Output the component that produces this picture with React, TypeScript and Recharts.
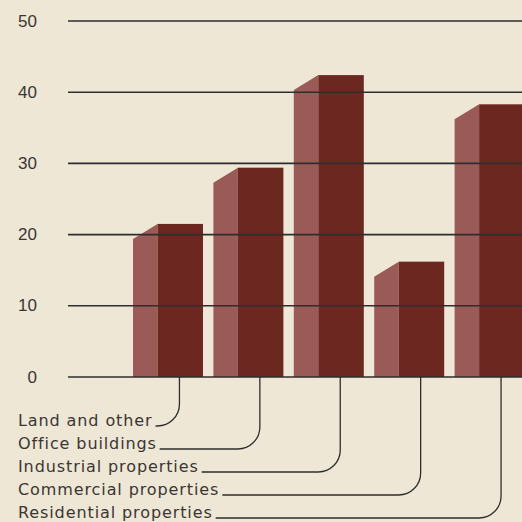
import { BarChart, Bar, XAxis, YAxis, ReferenceLine } from 'recharts';

const categories = [
  'Land and other',
  'Office buildings',
  'Industrial properties',
  'Commercial properties',
  'Residential properties',
];
const values = [21.5, 29.4, 42.4, 16.2, 38.3];
const yTicks = [0, 10, 20, 30, 40, 50];

const data = categories.map((name, i) => ({ name, value: values[i] }));

const BG = '#eee7d5';
const FRONT = '#6c2820';
const SIDE = '#9a5a58';
const INK = '#2e2e2e';
const LABEL_FONT = '16px "DejaVu Sans"';
const LABEL_SPACING = 0.9;

let ctx: CanvasRenderingContext2D | null = null;
function textWidth(s: string) {
  if (!ctx) ctx = document.createElement('canvas').getContext('2d');
  if (!ctx) return s.length * 9.5;
  ctx.font = LABEL_FONT;
  return ctx.measureText(s).width + s.length * LABEL_SPACING;
}

const SIDE_RATIO = 0.35;
const SLANT = 15;

function Bar3D(props: any) {
  const { x, y, width, height } = props;
  const side = width * SIDE_RATIO;
  const bottom = y + height;
  return (
    <g>
      <polygon
        points={`${x},${y + SLANT} ${x + side},${y} ${x + side},${bottom} ${x},${bottom}`}
        fill={SIDE}
      />
      <rect x={x + side} y={y} width={width - side} height={height} fill={FRONT} />
    </g>
  );
}

function CategoryTick(props: any) {
  const { x, y, payload, index } = props;
  const barWidth = 70;
  const fx = x - barWidth / 2 + barWidth * SIDE_RATIO + (barWidth * (1 - SIDE_RATIO)) / 2 - 1;
  const ly = y + 49 + index * 23;
  const tx = 18;
  const end = tx + textWidth(payload.value) + 3;
  const r = 22;
  const d = `M${fx},${y} V${ly - r} A${r},${r} 0 0 1 ${fx - r},${ly} H${end}`;
  return (
    <g>
      <path d={d} fill="none" stroke={INK} strokeWidth={1.3} />
      <text
        x={tx}
        y={ly}
        fill="#3a3634"
        style={{ font: LABEL_FONT, letterSpacing: LABEL_SPACING }}
      >
        {payload.value}
      </text>
    </g>
  );
}

function ValueTick(props: any) {
  const { y, payload } = props;
  return (
    <text
      x={37}
      y={y}
      textAnchor="end"
      dominantBaseline="central"
      fill="#3a3634"
      style={{ fontFamily: '"Liberation Sans", Arial, sans-serif', fontSize: 17 }}
    >
      {payload.value}
    </text>
  );
}

export default function App() {
  return (
    <div
      style={{
        position: 'absolute',
        left: 0,
        top: 0,
        width: 522,
        height: 522,
        overflow: 'hidden',
        background: BG,
      }}
    >
      <BarChart
        width={530}
        height={522}
        data={data}
        margin={{ top: 21, right: 0, bottom: 0, left: 0 }}
        barSize={70}
      >
        <XAxis
          dataKey="name"
          height={145}
          axisLine={false}
          tickLine={false}
          tickSize={0}
          tickMargin={0}
          interval={0}
          padding={{ left: 60, right: 0 }}
          tick={<CategoryTick />}
        />
        <YAxis
          width={68}
          domain={[0, 50]}
          ticks={yTicks}
          axisLine={false}
          tickLine={false}
          tick={<ValueTick />}
        />
        <Bar dataKey="value" isAnimationActive={false} shape={<Bar3D />} />
        {yTicks.map((t) => (
          <ReferenceLine key={t} y={t} stroke={INK} strokeWidth={1.6} />
        ))}
      </BarChart>
    </div>
  );
}
